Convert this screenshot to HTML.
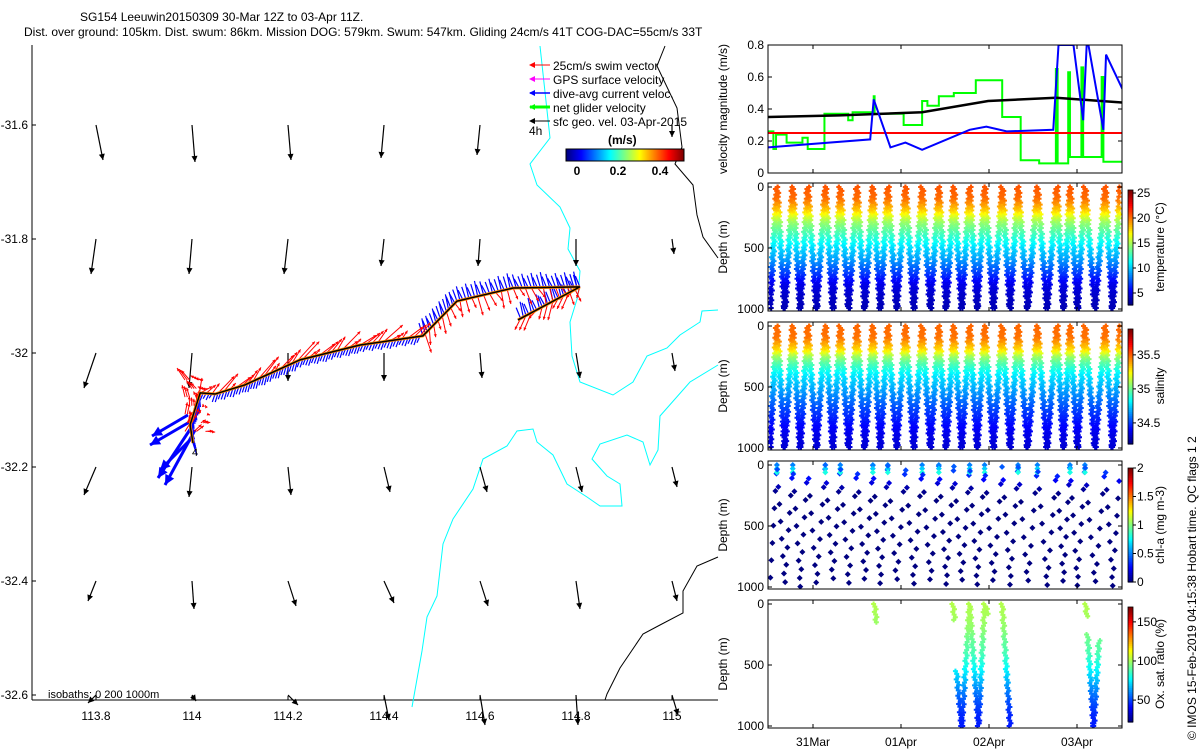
<!DOCTYPE html>
<html><head><meta charset="utf-8"><style>
body{margin:0;background:#fff;}
svg text{font-family:"Liberation Sans",sans-serif;}
</style></head><body>
<svg id="root" width="1200" height="750" xmlns="http://www.w3.org/2000/svg" style="display:block;background:#fff">
<text x="80" y="21" font-size="12">SG154 Leeuwin20150309 30-Mar 12Z to 03-Apr 11Z.</text>
<text x="24" y="36" font-size="12">Dist. over ground: 105km. Dist. swum: 86km. Mission DOG: 579km. Swum: 547km. Gliding 24cm/s 41T COG-DAC=55cm/s 33T</text>
<text transform="translate(1196,740) rotate(-90)" font-size="12">© IMOS 15-Feb-2019 04:15:38 Hobart time. QC flags 1  2</text>
<g id="map"></g>
<g id="vel"></g>
<g id="temp"></g>
<g id="sal"></g>
<g id="chl"></g>
<g id="oxy"></g>
</svg>
<script>
// ---------- DATA ----------
const mapLonTicks=[113.8,114,114.2,114.4,114.6,114.8,115];
const mapLatTicks=[-31.6,-31.8,-32,-32.2,-32.4,-32.6];
const quiverLons=[113.8,114,114.2,114.4,114.6,114.8,115];
const quiverLats=[-31.6,-31.8,-32,-32.2,-32.4,-32.6];
const quiverU=[[7,3,3,-3,-3,0,0],[-5,-3,-4,-3,-2,0,2],[-12,-3,0,0,2,4,3],[-12,-3,3,6,7,6,5],[-8,2,8,10,8,4,5],[-8,4,10,5,5,2,6]];
const quiverV=[[35,37,35,33,30,0,12],[35,35,35,27,27,27,15],[35,35,28,28,25,25,18],[28,30,28,25,25,25,20],[20,28,25,22,25,28,20],[8,6,10,25,30,30,20]];
const trackLon=[114.002,113.996,114.017,114.048,114.110,114.225,114.350,114.481,114.517,114.552,114.669,114.808,114.679];
const trackLat=[-32.158,-32.126,-32.070,-32.072,-32.056,-32.012,-31.986,-31.970,-31.939,-31.909,-31.886,-31.884,-31.942];
const dayTicks=['31Mar','01Apr','02Apr','03Apr'];
const dayTickT=[0,1,2,3];
const swimT=[-0.51,3.52]; const swimV=[0.25,0.25];
const sfcT=[-0.51,0.3,1.24,1.99,2.76,3.52]; const sfcV=[0.35,0.36,0.38,0.45,0.47,0.44];
const dacT=[-0.51,0.65,0.69,0.88,1.05,1.24,1.78,1.97,2.2,2.73,2.79,2.96,3.07,3.11,3.13,3.3,3.33,3.52];
const dacV=[0.16,0.21,0.46,0.16,0.19,0.145,0.27,0.29,0.26,0.27,0.8,0.8,0.33,0.8,0.8,0.27,0.74,0.52];
const netT=[-0.51,-0.45,-0.42,-0.30,-0.12,-0.06,0.13,0.40,0.45,0.69,0.70,0.85,1.03,1.24,1.30,1.43,1.6,1.85,2.15,2.36,2.57,2.76,2.78,2.90,2.92,3.05,3.07,3.28,3.30,3.52];
const netV=[0.26,0.15,0.24,0.19,0.22,0.15,0.37,0.33,0.38,0.48,0.37,0.37,0.30,0.45,0.42,0.48,0.50,0.58,0.35,0.08,0.06,0.65,0.06,0.63,0.10,0.66,0.10,0.60,0.07,0.07];
const diveTops=[-0.57,-0.41,-0.23,-0.06,0.14,0.31,0.5,0.68,0.85,1.05,1.24,1.43,1.6,1.78,1.95,2.15,2.33,2.55,2.77,2.92,3.09,3.32,3.49];
const profDepth=[0,100,200,250,300,400,500,600,700,800,900,1000];
const profTemp=[20.8,20.3,18,16,14.5,12.5,10.5,9,7,5,4.2,3.8];
const profSal=[35.5,35.48,35.3,35.1,34.98,34.8,34.7,34.6,34.5,34.42,34.36,34.33];
const profChl=[0.45,0.3,0.05,0,0,0,0,0,0,0,0,0];
const profOxy=[103,101,98,95,92,88,80,70,60,52,46,44];
const oxySegs=[[0.70,0,0.72,150],[1.59,0,1.61,130],[1.63,550,1.69,1000],[1.69,1000,1.78,0],[1.78,0,1.88,1000],[1.88,1000,1.95,0],[1.95,0,1.99,80],[2.15,0,2.24,1000],[3.10,0,3.11,100],[3.12,250,3.19,1000],[3.19,1000,3.25,300]];

// ---------- helpers ----------
const NS='http://www.w3.org/2000/svg';
function el(tag,attrs,parent,text){const e=document.createElementNS(NS,tag);for(const k in attrs)e.setAttribute(k,attrs[k]);if(text!==undefined)e.textContent=text;parent.appendChild(e);return e;}
function jet(v){v=Math.max(0,Math.min(1,v));const f=x=>Math.round(255*Math.max(0,Math.min(1,x)));return `rgb(${f(1.5-Math.abs(4*v-3))},${f(1.5-Math.abs(4*v-2))},${f(1.5-Math.abs(4*v-1))})`;}
function interp(xs,ys,x){for(let i=1;i<xs.length;i++){if(x<=xs[i]){const f=(x-xs[i-1])/(xs[i]-xs[i-1]);return ys[i-1]+f*(ys[i]-ys[i-1]);}}return ys[ys.length-1];}
function plus(g,x,y,c){el('path',{d:`M${x-2.5},${y}H${x+2.5}M${x},${y-2.5}V${y+2.5}`,stroke:c,'stroke-width':2},g);}

// ---------- MAP ----------
const map=document.getElementById('map');
const mx=lon=>192+(lon-114)*480, my=lat=>353-(lat+32)*570;
const mapL=32,mapR=718,mapT=45,mapB=700;
el('line',{x1:mapL,y1:mapT,x2:mapL,y2:mapB,stroke:'#000'},map);
el('line',{x1:mapL,y1:mapB,x2:mapR,y2:mapB,stroke:'#000'},map);
mapLonTicks.forEach(l=>{const t=el('text',{x:mx(l),y:720,'font-size':12,'text-anchor':'middle'},map,String(l));el('line',{x1:mx(l),y1:mapB,x2:mx(l),y2:mapB-4,stroke:'#000'},map);});
mapLatTicks.forEach(l=>{const t=el('text',{x:28,y:my(l)+4,'font-size':12,'text-anchor':'end'},map,String(l));el('line',{x1:mapL,y1:my(l),x2:mapL+4,y2:my(l),stroke:'#000'},map);});
const cyan1=[[540,46],[550,138],[530,164],[537,185],[560,207],[570,228],[568,249],[580,271],[578,296],[570,322],[572,356],[580,382],[613,395],[633,382],[647,356],[667,348],[680,335],[700,322],[702,311],[718,310]];
const cyan2=[[718,365],[690,382],[660,416],[658,450],[650,465],[643,442],[627,435],[600,444],[592,459],[607,476],[620,484],[622,506],[600,506],[587,497],[567,484],[553,455],[537,442],[533,429],[517,431],[507,446],[483,459],[473,489],[453,519],[443,544],[437,596],[427,617],[422,651],[412,707]];
const blk1=[[665,46],[657,66],[677,108],[682,147],[675,164],[693,185],[697,215],[703,237],[718,258]];
const blk2=[[718,557],[697,566],[683,591],[683,613],[660,625],[643,634],[620,668],[607,694],[605,700]];
[[cyan1,'#0ff','isobath-200m'],[cyan2,'#0ff','isobath-200m-south'],[blk1,'#000','isobath-1000m'],[blk2,'#000','isobath-1000m-south']].forEach(([p,c,n])=>{const e=el('polyline',{points:p.map(q=>q.join(',')).join(' '),fill:'none',stroke:c,'stroke-width':1},map);});
function arrow(g,x,y,dx,dy,col,w,head){const x2=x+dx,y2=y+dy;el('line',{x1:x,y1:y,x2:x2,y2:y2,stroke:col,'stroke-width':w},g);const L=Math.hypot(dx,dy)||1,ux=dx/L,uy=dy/L;const h=head;el('polygon',{points:`${x2},${y2} ${x2-h*ux-h*0.5*uy},${y2-h*uy+h*0.5*ux} ${x2-h*ux+h*0.5*uy},${y2-h*uy-h*0.5*ux}`,fill:col},g);}
const qg=el('g',{},map);
quiverLats.forEach((la,i)=>quiverLons.forEach((lo,j)=>{if(quiverV[i][j]===0&&quiverU[i][j]===0)return;arrow(qg,mx(lo),my(la),quiverU[i][j],quiverV[i][j],'#000',1.2,6);}));
const tg=el('g',{},map);
const tp=trackLon.map((l,i)=>[mx(l),my(trackLat[i])]);
const blueG=el('g',{},tg),redG=el('g',{},tg);
let k=0;
for(let i=1;i<tp.length;i++){const[a,b]=[tp[i-1],tp[i]];const L=Math.hypot(b[0]-a[0],b[1]-a[1]);const n=Math.max(1,Math.round(L/3));const ux=(b[0]-a[0])/L,uy=(b[1]-a[1])/L;
 for(let s=0;s<n;s++){k++;const x=a[0]+(b[0]-a[0])*s/n,y=a[1]+(b[1]-a[1])*s/n;const r=((k*37)%11)/11,r2=((k*53)%7)/7;
  if(i<=7){
   if(k%2==0)arrow(redG,x,y,ux*(6+12*r)+6*r2-2,uy*(6+12*r)-(4+12*r2),'#f00',1,3);
   el('line',{x1:x,y1:y,x2:x-ux*6+3,y2:y-uy*6+5+3*r,stroke:'#00f','stroke-width':1.2},blueG);
  } else {
   el('line',{x1:x,y1:y,x2:x-5+2*r,y2:y-9-7*r,stroke:'#00f','stroke-width':1.2},blueG);
   if(k%2==0)arrow(redG,x,y,ux*6+(6*r2-3),8+12*r,'#f00',1,3);
  }}}
[[193,420,150,445],[193,425,158,478],[195,430,165,485],[190,440,160,470],[188,415,152,436]].forEach(s=>arrow(blueG,s[0],s[1],s[2]-s[0],s[3]-s[1],'#00f',3,10));
for(let j=0;j<40;j++){const r=((j*37)%11)/11,r2=((j*53)%7)/7;arrow(redG,185+25*r,380+60*r2,-8+18*r2,-12+14*r,'#f00',1,3);}
el('polyline',{points:tp.map(p=>p.join(',')).join(' '),fill:'none',stroke:'#f80','stroke-width':3},tg);
el('polyline',{points:tp.map(p=>p.join(',')).join(' '),fill:'none',stroke:'#000','stroke-width':1.5},tg);
el('text',{x:192,y:456,'font-size':11},tg,'4');
const lg=el('g',{},map);
[['#f00','25cm/s swim vector',1],['#f0f','GPS surface velocity',1],['#00f','dive-avg current veloc.',1.5],['#0f0','net glider velocity',3],['#000','sfc geo. vel. 03-Apr-2015',1]].forEach((d,i)=>{const y=65+i*14;el('line',{x1:530,y1:y,x2:550,y2:y,stroke:d[0],'stroke-width':d[2]},lg);el('polygon',{points:`529,${y} 535,${y-3} 535,${y+3}`,fill:d[0]},lg);el('text',{x:553,y:y+5,'font-size':12},lg,d[1]);});
el('text',{x:529,y:135,'font-size':12},lg,'4h');
el('text',{x:608,y:144,'font-size':12,'font-weight':'bold'},lg,'(m/s)');
for(let i=0;i<118;i++){el('rect',{x:566+i,y:149,width:1.2,height:12,fill:jet(i/117)},lg);}
el('rect',{x:566,y:149,width:118,height:12,fill:'none',stroke:'#000'},lg);
[['0',577],['0.2',618],['0.4',660]].forEach(d=>el('text',{x:d[1],y:175,'font-size':12,'font-weight':'bold','text-anchor':'middle'},lg,d[0]));
el('text',{x:48,y:698,'font-size':11},map,'isobaths: 0   200  1000m');

// ---------- RIGHT PANELS ----------
const PL=768,PR=1122;
const tx=t=>813+88*t;
function panelFrame(g,top,bot,ylabel,yticks,yfn){
 el('rect',{x:PL,y:top,width:PR-PL,height:bot-top,fill:'none',stroke:'#000'},g);
 yticks.forEach(v=>{const y=yfn(v);el('line',{x1:PL,y1:y,x2:PL+4,y2:y,stroke:'#000'},g);el('line',{x1:PR,y1:y,x2:PR-4,y2:y,stroke:'#000'},g);const t=el('text',{x:PL-4,y:y+4,'font-size':12,'text-anchor':'end'},g,String(v));});
 const yl=el('text',{transform:`translate(${PL-41},${(top+bot)/2}) rotate(-90)`,'font-size':12,'text-anchor':'middle'},g,ylabel);
 dayTickT.forEach(t=>{el('line',{x1:tx(t),y1:bot,x2:tx(t),y2:bot-4,stroke:'#000'},g);el('line',{x1:tx(t),y1:top,x2:tx(t),y2:top+4,stroke:'#000'},g);});
}
const vg=document.getElementById('vel');const vT=45,vB=173;const vy=v=>vB-(v/0.8)*(vB-vT);
const cp=el('clipPath',{id:'vclip'},vg);el('rect',{x:PL,y:vT,width:PR-PL,height:vB-vT},cp);
const vs=el('g',{'clip-path':'url(#vclip)'},vg);
let netPts=[];netT.forEach((t,i)=>{if(i>0)netPts.push([tx(t),vy(netV[i-1])]);netPts.push([tx(t),vy(netV[i])]);});
const ln=el('polyline',{points:netPts.map(p=>p.join(',')).join(' '),fill:'none',stroke:'#0f0','stroke-width':2},vs);
const lr=el('polyline',{points:swimT.map((t,i)=>tx(t)+','+vy(swimV[i])).join(' '),fill:'none',stroke:'#f00','stroke-width':2},vs);
const lk=el('polyline',{points:sfcT.map((t,i)=>tx(t)+','+vy(sfcV[i])).join(' '),fill:'none',stroke:'#000','stroke-width':2.5},vs);
const lb=el('polyline',{points:dacT.map((t,i)=>tx(t)+','+vy(dacV[i])).join(' '),fill:'none',stroke:'#00f','stroke-width':2},vs);
panelFrame(vg,vT,vB,'velocity magnitude (m/s)',[0,0.2,0.4,0.6,0.8],vy);

function colorbar(g,cT,cB,top,bot,label,cmin,cmax,cticks){
 const n=60;
 for(let i=0;i<n;i++)el('rect',{x:1128,y:cB-(i+1)*(cB-cT)/n,width:5,height:(cB-cT)/n+0.6,fill:jet(i/(n-1))},g);
 el('rect',{x:1128,y:cT,width:5,height:cB-cT,fill:'none',stroke:'#000','stroke-width':0.8},g);
 cticks.forEach(v=>{const y=cB-(v-cmin)/(cmax-cmin)*(cB-cT);el('line',{x1:1133,y1:y,x2:1136,y2:y,stroke:'#000'},g);el('text',{x:1137,y:y+4,'font-size':12},g,String(v));});
 const t=el('text',{transform:`translate(1164,${(top+bot)/2}) rotate(-90)`,'font-size':12,'text-anchor':'middle'},g,label);
}
function diveScatter(gid,top,bot,label,prof,cmin,cmax,cticks,cT,cB){
 const g=document.getElementById(gid);const dy=d=>top+4+(d/1000)*(bot-top-6);
 const pg=el('g',{},g);
 for(let i=0;i<diveTops.length-1;i++){const t0=diveTops[i],t1=diveTops[i+1],tm=(t0+t1)/2;
  for(let d=0;d<=1000;d+=16){[t0+(tm-t0)*d/1000,t1-(t1-tm)*d/1000].forEach((t,j)=>{const x=tx(t)+((d*7+i*13+j*3)%5-2)*0.7;if(x<PL+2||x>PR-2)return;const v=interp(profDepth,prof,d);plus(pg,x,dy(d),jet((v-cmin)/(cmax-cmin)));});}}
 panelFrame(g,top,bot,'Depth (m)',[0,500,1000],dy);
 colorbar(g,cT,cB,top,bot,label,cmin,cmax,cticks);
}
diveScatter('temp',183,311,'temperature (°C)',profTemp,2.6,25.6,[5,10,15,20,25],190,305);
diveScatter('sal',322,450,'salinity',profSal,34.19,35.88,[34.5,35,35.5],329,444);
(function(){const g=document.getElementById('chl');const top=461,bot=589;const dy=d=>top+4+(d/1000)*(bot-top-6);
 const dm=(x,y,c)=>el('path',{d:`M${x-3},${y}L${x},${y-3}L${x+3},${y}L${x},${y+3}Z`,fill:c},g);
 for(let i=0;i<diveTops.length-1;i++){const t0=diveTops[i],t1=diveTops[i+1],tm=(t0+t1)/2;
  for(let j=0;j<14;j++){const d=((j*71+i*37)%1000);const up=j%2;const t=up?t1-(t1-tm)*d/1000:t0+(tm-t0)*d/1000;const x=tx(t);if(x<PL+2||x>PR-2)continue;dm(x,dy(d),jet(interp(profDepth,profChl,d)/2));}
  [0,30,60].forEach(d=>{const x=tx(t1)+(d%2);if(x>PL+2&&x<PR-2&&i%3!==2){dm(x,dy(d),jet(0.25+d/400));}});}
 panelFrame(g,top,bot,'Depth (m)',[0,500,1000],dy);colorbar(g,468,582,top,bot,'chl-a (mg m-3)',0,2,[0,0.5,1,1.5,2]);})();
(function(){const g=document.getElementById('oxy');const top=600,bot=728;const dy=d=>top+4+(d/1000)*(bot-top-6);
 oxySegs.forEach(s=>{const n=Math.max(2,Math.round(Math.abs(s[3]-s[1])/22));for(let i=0;i<=n;i++){const f=i/n;const t=s[0]+(s[2]-s[0])*f,d=s[1]+(s[3]-s[1])*f;plus(g,tx(t)+((i*7)%3-1),dy(d),jet((interp(profDepth,profOxy,d)-22)/147));}});
 panelFrame(g,top,bot,'Depth (m)',[0,500,1000],dy);colorbar(g,607,722,top,bot,'Ox. sat. ratio (%)',22,169,[50,100,150]);
 dayTicks.forEach((d,i)=>{const t=el('text',{x:tx(dayTickT[i]),y:746,'font-size':12,'text-anchor':'middle'},g,d);});})();
</script>
</body></html>
